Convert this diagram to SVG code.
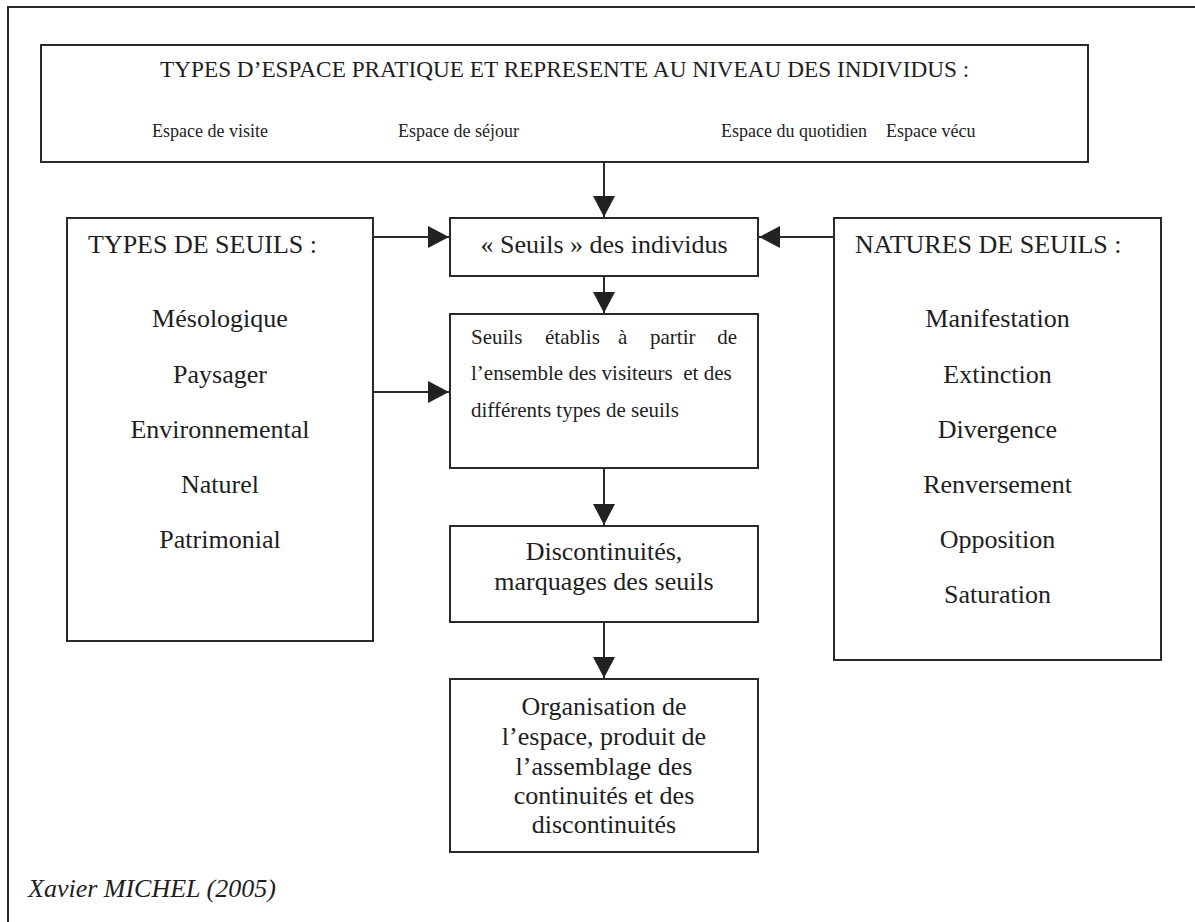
<svg xmlns="http://www.w3.org/2000/svg" width="1195" height="922" viewBox="0 0 1195 922">
  <style>
    .box { fill: #ffffff; stroke: #2a2a2a; stroke-width: 2; }
    .frame { fill: none; stroke: #2a2a2a; stroke-width: 2; }
    .link { fill: none; stroke: #2a2a2a; stroke-width: 2; }
    text { font-family: "Liberation Serif", "Times New Roman", serif; fill: #1e1e1e; }
    .t23 { font-size: 23.25px; }
    .t18 { font-size: 18px; }
    .t26 { font-size: 26px; }
    .t21 { font-size: 21px; }
    .mid { text-anchor: middle; }
    .end { text-anchor: end; }
    .ital { font-style: italic; }
  </style>
  <defs>
    <marker id="arrow" viewBox="0 0 21 22" refX="21" refY="11" markerWidth="21" markerHeight="22" markerUnits="userSpaceOnUse" orient="auto">
      <path d="M0,0 L21,11 L0,22 z" fill="#222222"/>
    </marker>
  </defs>

  <rect width="1195" height="922" fill="#ffffff"/>
  <!-- outer frame, right and bottom edges run off the page -->
  <rect class="frame" x="8" y="7" width="1210" height="940"/>

  <g id="espace-pratique">
    <rect class="box" x="41" y="45" width="1047" height="117"/>
    <text class="t23" x="160" y="77">TYPES D’ESPACE PRATIQUE ET REPRESENTE AU NIVEAU DES INDIVIDUS :</text>
    <text class="t18" x="152" y="137">Espace de visite</text>
    <text class="t18" x="398" y="137">Espace de séjour</text>
    <text class="t18" x="721" y="137">Espace du quotidien</text>
    <text class="t18" x="886" y="137">Espace vécu</text>
  </g>

  <g id="types-seuils">
    <rect class="box" x="67" y="218" width="306" height="423"/>
    <text class="t26" x="88" y="253">TYPES DE SEUILS :</text>
    <text class="t26 mid" x="220" y="327">Mésologique</text>
    <text class="t26 mid" x="220" y="383">Paysager</text>
    <text class="t26 mid" x="220" y="438">Environnemental</text>
    <text class="t26 mid" x="220" y="493">Naturel</text>
    <text class="t26 mid" x="220" y="548">Patrimonial</text>
  </g>

  <g id="natures-seuils">
    <rect class="box" x="834" y="218" width="327" height="442"/>
    <text class="t26" x="855" y="253">NATURES DE SEUILS :</text>
    <text class="t26 mid" x="997.5" y="327">Manifestation</text>
    <text class="t26 mid" x="997.5" y="383">Extinction</text>
    <text class="t26 mid" x="997.5" y="438">Divergence</text>
    <text class="t26 mid" x="997.5" y="493">Renversement</text>
    <text class="t26 mid" x="997.5" y="548">Opposition</text>
    <text class="t26 mid" x="997.5" y="603">Saturation</text>
  </g>

  <g id="seuils-individus">
    <rect class="box" x="450" y="218" width="308" height="58"/>
    <text class="t26 mid" x="604" y="253">« Seuils » des individus</text>
  </g>

  <g id="seuils-etablis">
    <rect class="box" x="450" y="314" width="308" height="154"/>
    <text class="t21" x="471" y="344">Seuils</text>
    <text class="t21" x="545" y="344">établis</text>
    <text class="t21" x="618" y="344">à</text>
    <text class="t21" x="650" y="344">partir</text>
    <text class="t21 end" x="737" y="344">de</text>
    <text class="t21" x="471" y="380" xml:space="preserve">l’ensemble des visiteurs  et des</text>
    <text class="t21" x="471" y="417">différents types de seuils</text>
  </g>

  <g id="discontinuites">
    <rect class="box" x="450" y="526" width="308" height="96"/>
    <text class="t26 mid" x="604" y="560">Discontinuités,</text>
    <text class="t26 mid" x="604" y="590">marquages des seuils</text>
  </g>

  <g id="organisation">
    <rect class="box" x="450" y="679" width="308" height="173"/>
    <text class="t26 mid" x="604" y="715">Organisation de</text>
    <text class="t26 mid" x="604" y="745">l’espace, produit de</text>
    <text class="t26 mid" x="604" y="775">l’assemblage des</text>
    <text class="t26 mid" x="604" y="804">continuités et des</text>
    <text class="t26 mid" x="604" y="833">discontinuités</text>
  </g>

  <g id="connectors">
    <line class="link" x1="604" y1="162" x2="604" y2="217" marker-end="url(#arrow)"/>
    <line class="link" x1="604" y1="276" x2="604" y2="313" marker-end="url(#arrow)"/>
    <line class="link" x1="604" y1="468" x2="604" y2="525" marker-end="url(#arrow)"/>
    <line class="link" x1="604" y1="622" x2="604" y2="678" marker-end="url(#arrow)"/>
    <line class="link" x1="373" y1="237" x2="449" y2="237" marker-end="url(#arrow)"/>
    <line class="link" x1="373" y1="392" x2="449" y2="392" marker-end="url(#arrow)"/>
    <line class="link" x1="834" y1="237" x2="759" y2="237" marker-end="url(#arrow)"/>
  </g>

  <text class="t26 ital" x="28" y="897">Xavier MICHEL (2005)</text>
</svg>
